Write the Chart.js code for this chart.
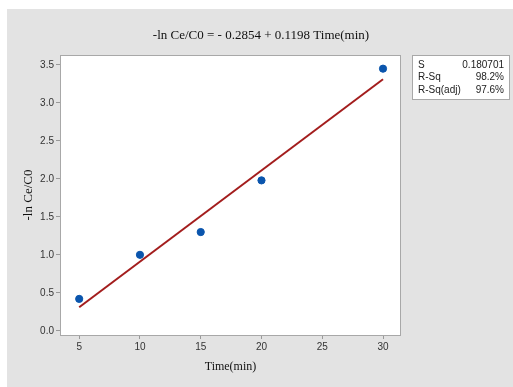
<!DOCTYPE html>
<html>
<head>
<meta charset="utf-8">
<script src="https://cdn.jsdelivr.net/npm/chart.js@4"></script>
<style>
  html, body { margin: 0; padding: 0; background: #fff; }
  #wrap { width: 513px; height: 387px; }
</style>
</head>
<body>
<div id="wrap"><canvas id="myChart" width="513" height="387"></canvas></div>
<script>
// observed points
var timeValues = [5, 10, 15, 20, 30];
var lnValues = [0.42, 1.0, 1.30, 1.98, 3.45];

// fitted line, ends
var fitTime = [5, 30];
var fitValues = [0.31, 3.31];

var xTicks = [5, 10, 15, 20, 25, 30];
var yTicks = [0.0, 0.5, 1.0, 1.5, 2.0, 2.5, 3.0, 3.5];

var titleText = '-ln Ce/C0 = - 0.2854 + 0.1198 Time(min)';
var statNames = ['S', 'R-Sq', 'R-Sq(adj)'];
var statValues = ['0.180701', '98.2%', '97.6%'];

var pointData = timeValues.map((t, i) => ({x: t, y: lnValues[i]}));
var fitData = fitTime.map((t, i) => ({x: t, y: fitValues[i]}));

const backdrop = {
  id: 'backdrop',
  beforeDraw(chart) {
    const c = chart.ctx;
    const a = chart.chartArea;
    c.save();
    c.fillStyle = '#ffffff';
    c.fillRect(0, 0, chart.width, chart.height);
    c.fillStyle = '#e3e3e3';
    c.fillRect(7, 9, chart.width - 7, chart.height - 9);
    c.fillStyle = '#ffffff';
    c.fillRect(a.left, a.top, a.right - a.left, a.bottom - a.top);
    c.restore();
  },
  afterDraw(chart) {
    const c = chart.ctx;
    const a = chart.chartArea;
    c.save();
    c.strokeStyle = '#a8a8a8';
    c.lineWidth = 1;
    c.strokeRect(a.left + 0.5, a.top + 0.5, a.right - a.left - 1, a.bottom - a.top);

    // title
    c.fillStyle = '#111';
    c.font = '13px "Liberation Serif"';
    c.textAlign = 'center';
    c.textBaseline = 'middle';
    c.fillText(titleText, 261, 36);

    // stats box
    c.fillStyle = '#ffffff';
    c.fillRect(412, 55, 97, 44);
    c.strokeStyle = '#a8a8a8';
    c.strokeRect(412.5, 55.5, 97, 44);
    c.fillStyle = '#222';
    c.font = '10px "Liberation Sans"';
    for (let i = 0; i < statNames.length; i++) {
      c.textAlign = 'left';
      c.fillText(statNames[i], 418, 65 + i * 12.5);
      c.textAlign = 'right';
      c.fillText(statValues[i], 504, 65 + i * 12.5);
    }
    c.restore();
  }
};

const ctx = document.getElementById('myChart');
const myChart = new Chart(ctx, {
  type: 'scatter',
  data: {
    datasets: [{
      data: pointData,
      backgroundColor: '#0a55ad',
      borderColor: '#0a55ad',
      pointRadius: 3.6,
      pointHoverRadius: 3.6,
      order: 1
    }, {
      data: fitData,
      showLine: true,
      borderColor: '#a31d1d',
      borderWidth: 2,
      pointRadius: 0,
      fill: false,
      order: 2
    }]
  },
  options: {
    responsive: false,
    animation: false,
    devicePixelRatio: 1,
    layout: { padding: { left: 0, top: 55, right: 112, bottom: 0 } },
    plugins: { legend: { display: false }, tooltip: { enabled: false } },
    scales: {
      x: {
        type: 'linear',
        min: 3.42,
        max: 31.48,
        afterFit: (s) => { s.height = 52; },
        afterBuildTicks: (s) => { s.ticks = xTicks.map(v => ({value: v})); },
        border: { display: false },
        grid: { drawOnChartArea: false, drawTicks: true, tickLength: 4, color: '#999' },
        ticks: { color: '#333', padding: 2, font: { family: 'Liberation Sans', size: 10 }, maxRotation: 0 },
        title: {
          display: true, text: 'Time(min)', color: '#111',
          font: { family: 'Liberation Serif', size: 12 },
          padding: { top: 13, bottom: 13 }
        }
      },
      y: {
        type: 'linear',
        min: -0.055,
        max: 3.63,
        afterFit: (s) => { s.width = 60; },
        afterBuildTicks: (s) => { s.ticks = yTicks.map(v => ({value: v})); },
        border: { display: false },
        grid: { drawOnChartArea: false, drawTicks: true, tickLength: 4, color: '#999' },
        ticks: {
          color: '#333', padding: 2,
          font: { family: 'Liberation Sans', size: 10 },
          callback: (v) => Number(v).toFixed(1)
        },
        title: {
          display: true, text: '-ln Ce/C0', color: '#111',
          font: { family: 'Liberation Serif', size: 13 },
          padding: { top: 21, bottom: 21 }
        }
      }
    }
  },
  plugins: [backdrop]
});
</script>
</body>
</html>
